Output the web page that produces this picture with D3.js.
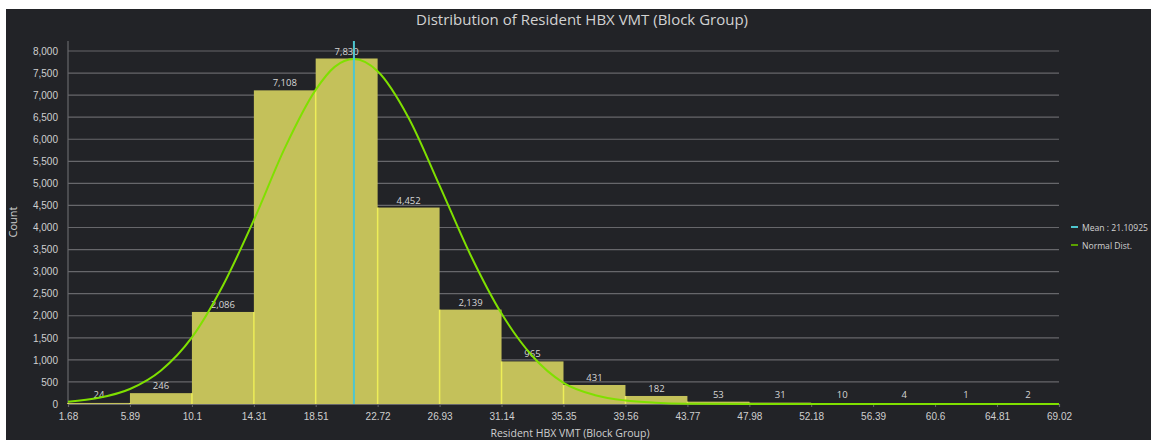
<!DOCTYPE html>
<html>
<head>
<meta charset="utf-8">
<script src="https://cdn.jsdelivr.net/npm/d3@7"></script>
<style>
  body { margin: 0; background: #ffffff; overflow: hidden; }
  svg { display: block; font-family: "Open Sans", "Noto Sans", sans-serif; }
</style>
</head>
<body>
<svg id="canvas"></svg>
<script>
// histogram bins (edges) and counts
const binEdges = [1.68, 5.89, 10.1, 14.31, 18.51, 22.72, 26.93, 31.14, 35.35, 39.56, 43.77, 47.98, 52.18, 56.39, 60.6, 64.81, 69.02];
const tickLabels = ['1.68', '5.89', '10.1', '14.31', '18.51', '22.72', '26.93', '31.14', '35.35', '39.56', '43.77', '47.98', '52.18', '56.39', '60.6', '64.81', '69.02'];
const counts = [24, 246, 2086, 7108, 7830, 4452, 2139, 965, 431, 182, 53, 31, 10, 4, 1, 2];
const yTicks = [0, 500, 1000, 1500, 2000, 2500, 3000, 3500, 4000, 4500, 5000, 5500, 6000, 6500, 7000, 7500, 8000];
const meanValue = 21.10925;

// normal distribution curve
const curveX = [1.68, 3.79, 5.89, 8.0, 10.1, 12.2, 14.31, 16.41, 18.51, 19.8, 21.11, 22.72, 24.8, 26.93, 29.0, 31.14, 33.2, 35.35, 37.5, 39.56, 41.6, 43.77, 47.98, 52.18, 56.39, 60.6, 64.81, 69.02];
const curveY = [50, 140, 340, 760, 1510, 2680, 4170, 5800, 7120, 7640, 7816, 7540, 6500, 4950, 3400, 2050, 1100, 480, 200, 80, 30, 8, 0, 0, 0, 0, 0, 0];

const width = 1151;
const height = 440;
const plotLeft = 68, plotRight = 1059, plotTop = 41, plotBottom = 404;

let canvas = d3.select('#canvas')
  .attr('width', width)
  .attr('height', height);

// dark panel (reference has a thin white strip at top/left)
canvas.append('rect')
  .attr('x', 6).attr('y', 9)
  .attr('width', width - 6).attr('height', height - 9)
  .attr('fill', '#222327');

let xScale = d3.scaleLinear()
  .domain([binEdges[0], binEdges[binEdges.length - 1]])
  .range([plotLeft, plotRight]);

let yScale = d3.scaleLinear()
  .domain([0, 8000])
  .range([plotBottom, 51]);

// gridlines
canvas.append('g')
  .selectAll('line')
  .data(yTicks.slice(1))
  .enter()
  .append('line')
  .attr('x1', plotLeft).attr('x2', plotRight)
  .attr('y1', d => yScale(d)).attr('y2', d => yScale(d))
  .attr('stroke', '#67676b')
  .attr('stroke-width', 1.2);

// y axis
let yAxis = d3.axisLeft(yScale)
  .tickValues(yTicks)
  .tickSize(0)
  .tickPadding(10)
  .tickFormat(d3.format(','));

let yg = canvas.append('g')
  .attr('transform', `translate(${plotLeft}, 0)`)
  .call(yAxis);
yg.select('.domain').remove();
yg.selectAll('text')
  .attr('fill', '#cfcfcf')
  .style('font-size', '10px');

canvas.append('line')
  .attr('x1', plotLeft).attr('x2', plotLeft)
  .attr('y1', plotTop).attr('y2', plotBottom)
  .attr('stroke', '#67676b')
  .attr('stroke-width', 1.2);

// bars
let bars = counts.map((c, i) => ({ x0: binEdges[i], x1: binEdges[i + 1], count: c }));

canvas.append('g')
  .selectAll('rect')
  .data(bars)
  .enter()
  .append('rect')
  .attr('x', d => xScale(d.x0))
  .attr('y', d => yScale(d.count))
  .attr('width', d => xScale(d.x1) - xScale(d.x0))
  .attr('height', d => plotBottom - yScale(d.count))
  .attr('fill', '#c4c15a');

// bright edges between bars, up to the lower neighbour
let edges = binEdges.slice(0, -1).map((e, i) => ({
  x: e,
  h: i === 0 ? counts[0] : Math.min(counts[i - 1], counts[i])
}));
canvas.append('g')
  .selectAll('line')
  .data(edges)
  .enter()
  .append('line')
  .attr('x1', d => xScale(d.x)).attr('x2', d => xScale(d.x))
  .attr('y1', plotBottom).attr('y2', d => yScale(d.h))
  .attr('stroke', '#eeee58')
  .attr('stroke-width', 1.5);

// x axis
let xAxis = d3.axisBottom(xScale)
  .tickValues(binEdges)
  .tickSize(3)
  .tickPadding(6)
  .tickFormat((d, i) => tickLabels[i]);

let xg = canvas.append('g')
  .attr('transform', `translate(0, ${plotBottom})`)
  .call(xAxis);
xg.select('.domain').attr('stroke', '#67676b').attr('stroke-width', 1.2);
xg.selectAll('.tick line').attr('stroke', '#67676b');
xg.selectAll('text')
  .attr('fill', '#cfcfcf')
  .style('font-size', '10px');

// bar value labels
canvas.append('g')
  .selectAll('text')
  .data(bars)
  .enter()
  .append('text')
  .attr('x', d => xScale((d.x0 + d.x1) / 2))
  .attr('y', d => Math.min(yScale(d.count), plotBottom - 2) - 4)
  .attr('text-anchor', 'middle')
  .attr('fill', '#d6d6d6')
  .style('font-size', '9.5px')
  .text(d => d3.format(',')(d.count));

// normal curve
let curvePoints = curveX.map((x, i) => [x, curveY[i]]);
let line = d3.line()
  .x(d => xScale(d[0]))
  .y(d => yScale(d[1]))
  .curve(d3.curveMonotoneX);

canvas.append('path')
  .datum(curvePoints)
  .attr('d', line)
  .attr('fill', 'none')
  .attr('stroke', '#7fe000')
  .attr('stroke-width', 2);

// mean line
canvas.append('line')
  .attr('x1', xScale(meanValue)).attr('x2', xScale(meanValue))
  .attr('y1', plotTop).attr('y2', plotBottom)
  .attr('stroke', '#4ec6cf')
  .attr('stroke-width', 2);

// titles
canvas.append('text')
  .attr('x', 582).attr('y', 25)
  .attr('text-anchor', 'middle')
  .attr('fill', '#d2d2d2')
  .style('font-size', '15px')
  .text('Distribution of Resident HBX VMT (Block Group)');

canvas.append('text')
  .attr('transform', 'translate(17, 222) rotate(-90)')
  .attr('text-anchor', 'middle')
  .attr('fill', '#cfcfcf')
  .style('font-size', '11px')
  .text('Count');

canvas.append('text')
  .attr('x', 570).attr('y', 437)
  .attr('text-anchor', 'middle')
  .attr('fill', '#cfcfcf')
  .style('font-size', '10.5px')
  .text('Resident HBX VMT (Block Group)');

// legend
let legendItems = [
  { label: 'Mean : ' + meanValue, color: '#4ec6cf' },
  { label: 'Normal Dist.', color: '#5aa000' }
];
let legend = canvas.append('g')
  .selectAll('g')
  .data(legendItems)
  .enter()
  .append('g')
  .attr('transform', (d, i) => `translate(1071, ${227 + i * 18})`);
legend.append('line')
  .attr('x1', 0).attr('x2', 7)
  .attr('stroke', d => d.color)
  .attr('stroke-width', 2);
legend.append('text')
  .attr('x', 11).attr('y', 3.5)
  .attr('fill', '#d2d2d2')
  .style('font-size', '8.6px')
  .text(d => d.label);
</script>
</body>
</html>
